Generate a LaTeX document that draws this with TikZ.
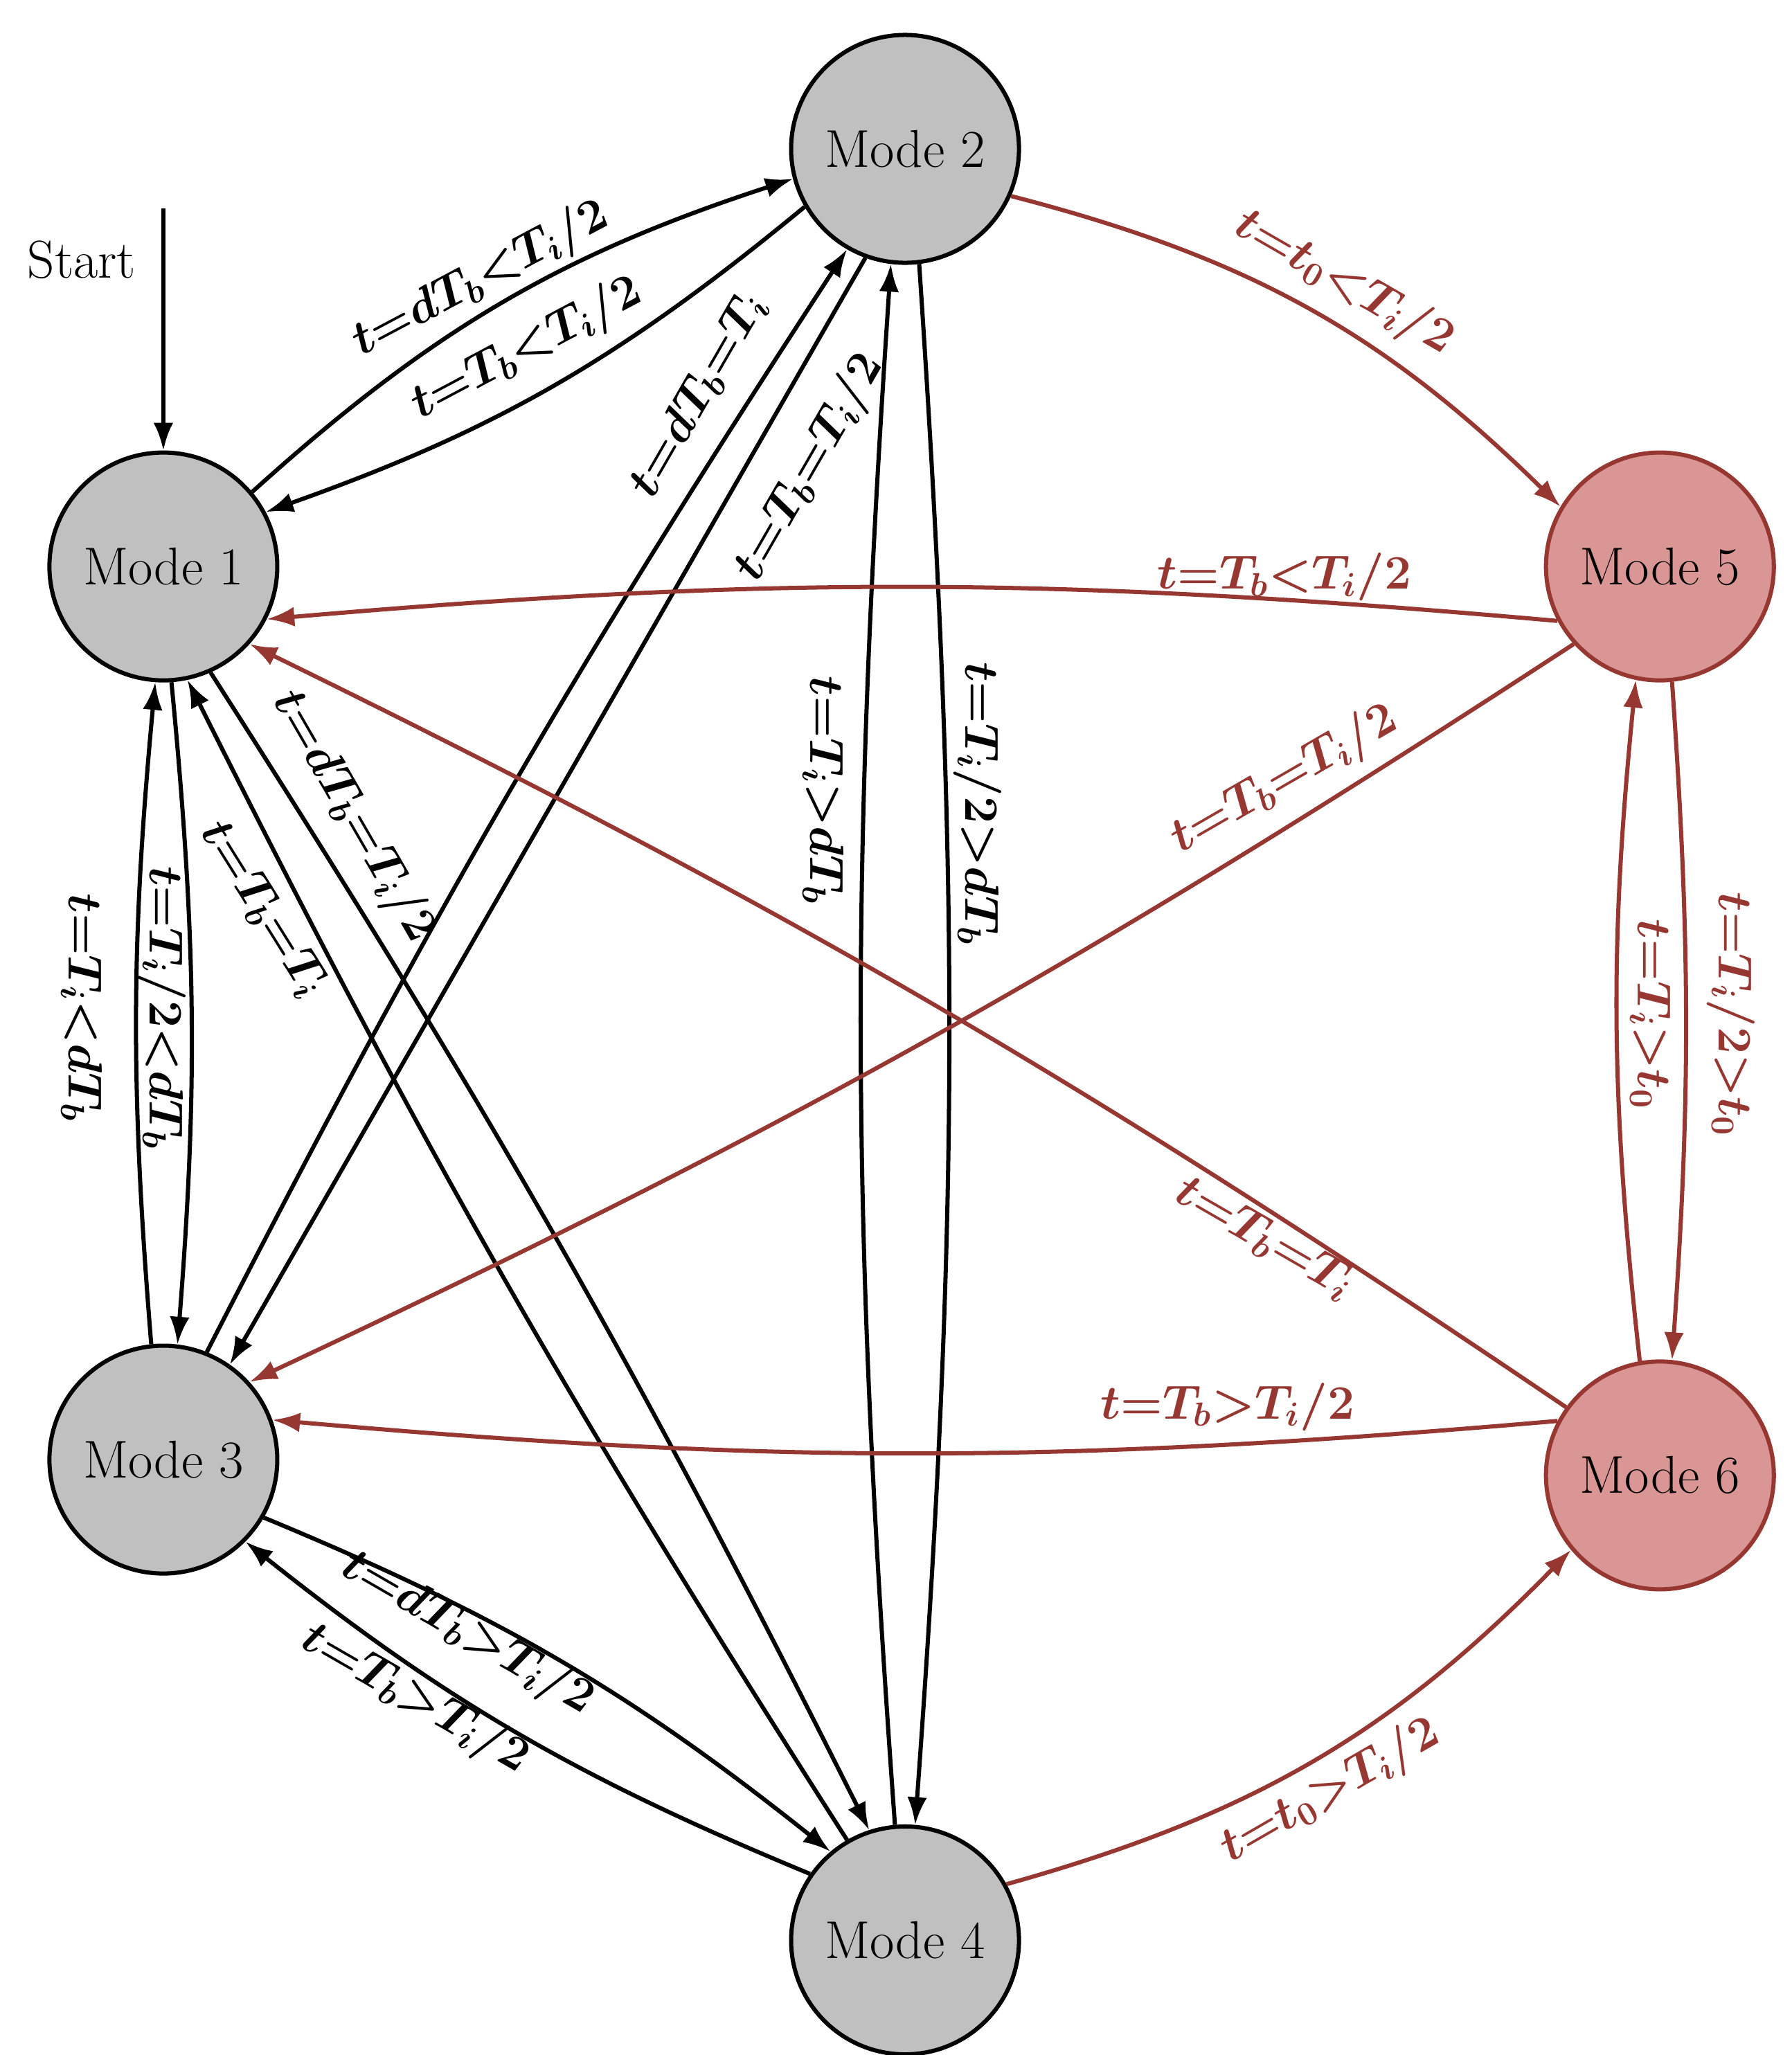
\documentclass[tikz,border=0pt]{standalone}
\usepackage{bm}
\usetikzlibrary{arrows.meta}
\definecolor{gfill}{RGB}{192,192,192}
\definecolor{rfill}{RGB}{217,150,148}
\definecolor{rline}{RGB}{150,55,50}
\begin{document}
\begin{tikzpicture}[x=0.02cm,y=-0.02cm,
  mode/.style={circle,draw,line width=1.8pt,minimum size=3.46cm,inner sep=0pt,font=\fontsize{23}{27}\selectfont},
  gm/.style={mode,fill=gfill},
  rm/.style={mode,fill=rfill,draw=rline},
  e/.style={line width=1.8pt,-{Latex[length=0.42cm,width=0.3cm]}},
  re/.style={e,draw=rline},
  lab/.style={font=\fontsize{21}{25}\selectfont,inner sep=1pt},
  rlab/.style={lab,text=rline}]
\useasboundingbox (0,0) rectangle (1360,1560);
\node[gm] (m1) at (124,430) {Mode 1};
\node[gm] (m2) at (687,113) {Mode 2};
\node[gm] (m3) at (124,1108) {Mode 3};
\node[gm] (m4) at (687,1473) {Mode 4};
\node[rm] (m5) at (1260,430) {Mode 5};
\node[rm] (m6) at (1260,1120) {Mode 6};
\node[font=\fontsize{23}{27}\selectfont] (st) at (62,197) {Start};
\coordinate (s0) at (124,158);
\draw[e] (s0) -- (m1);
% black edges
\draw[e] (m1.40) to[bend left=12] (m2.195);
\draw[e] (m2.210) to[bend left=10] (m1.28);
\draw[e] (m3.68) to[bend left=3] (m2.240);
\draw[e] (m2.250) to (m3.55);
\draw[e] (m4.95) to[bend left=4] (m2.263);
\draw[e] (m2.277) to[bend left=4] (m4.85);
\draw[e] (m1.274) to[bend left=5] (m3.83);
\draw[e] (m3.96) to[bend left=5] (m1.266);
\draw[e] (m1.294) to[bend left=3] (m4.108);
\draw[e] (m4.120) to[bend left=3] (m1.282);
\draw[e] (m3.330) to[bend left=8] (m4.130);
\draw[e] (m4.145) to[bend left=8] (m3.315);
% red edges
\draw[re] (m2.336) to[bend left=15] (m5.149);
\draw[re] (m5.208) to[bend right=5] (m1.333);
\draw[re] (m5.222) to[bend left=4] (m3.42);
\draw[re] (m6.144) to[bend right=4] (m1.318);
\draw[re] (m6.152) to[bend left=5] (m3.20);
\draw[re] (m6.100) to[bend left=6] (m5.258);
\draw[re] (m5.276) to[bend left=4] (m6.84);
\draw[re] (m4.29) to[bend right=15] (m6.220);
% labels
\node[lab,rotate=28] (l1) at (365,212) {$\bm{t{=}dT_b{<}T_i/2}$};
\node[lab,rotate=28] (l2) at (400,265) {$\bm{t{=}T_b{<}T_i/2}$};
\node[lab,rotate=60] (l3) at (530,300) {$\bm{t{=}dT_b{=}T_i}$};
\node[lab,rotate=60] (l4) at (615,355) {$\bm{t{=}T_b{=}T_i/2}$};
\node[lab,rotate=-90] (l5) at (625,600) {$\bm{t{=}T_i{>}dT_b}$};
\node[lab,rotate=-90] (l6) at (742,610) {$\bm{t{=}T_i/2{>}dT_b}$};
\node[lab,rotate=-90] (l7) at (123,765) {$\bm{t{=}T_i/2{<}dT_b}$};
\node[lab,rotate=-90] (l8) at (62,765) {$\bm{t{=}T_i{<}dT_b}$};
\node[lab,rotate=-60] (l9) at (268,620) {$\bm{t{=}dT_b{=}T_i/2}$};
\node[lab,rotate=-58] (l10) at (200,690) {$\bm{t{=}T_b{=}T_i}$};
\node[lab,rotate=-30] (l11) at (355,1240) {$\bm{t{=}dT_b{>}T_i/2}$};
\node[lab,rotate=-30] (l12) at (315,1290) {$\bm{t{=}T_b{>}T_i/2}$};
\node[rlab,rotate=-30] (r13) at (1020,215) {$\bm{t{=}t_0{<}T_i/2}$};
\node[rlab] (r14) at (975,438) {$\bm{t{=}T_b{<}T_i/2}$};
\node[rlab,rotate=30] (r15) at (975,592) {$\bm{t{=}T_b{=}T_i/2}$};
\node[rlab,rotate=-30] (r16) at (960,940) {$\bm{t{=}T_b{=}T_i}$};
\node[rlab] (r17) at (932,1068) {$\bm{t{=}T_b{>}T_i/2}$};
\node[rlab,rotate=-90] (r18) at (1253,770) {$\bm{t{=}T_i{>}t_0}$};
\node[rlab,rotate=-90] (r19) at (1314,770) {$\bm{t{=}T_i/2{>}t_0}$};
\node[rlab,rotate=30] (r20) at (1010,1360) {$\bm{t{=}t_0{>}T_i/2}$};
\end{tikzpicture}
\end{document}
